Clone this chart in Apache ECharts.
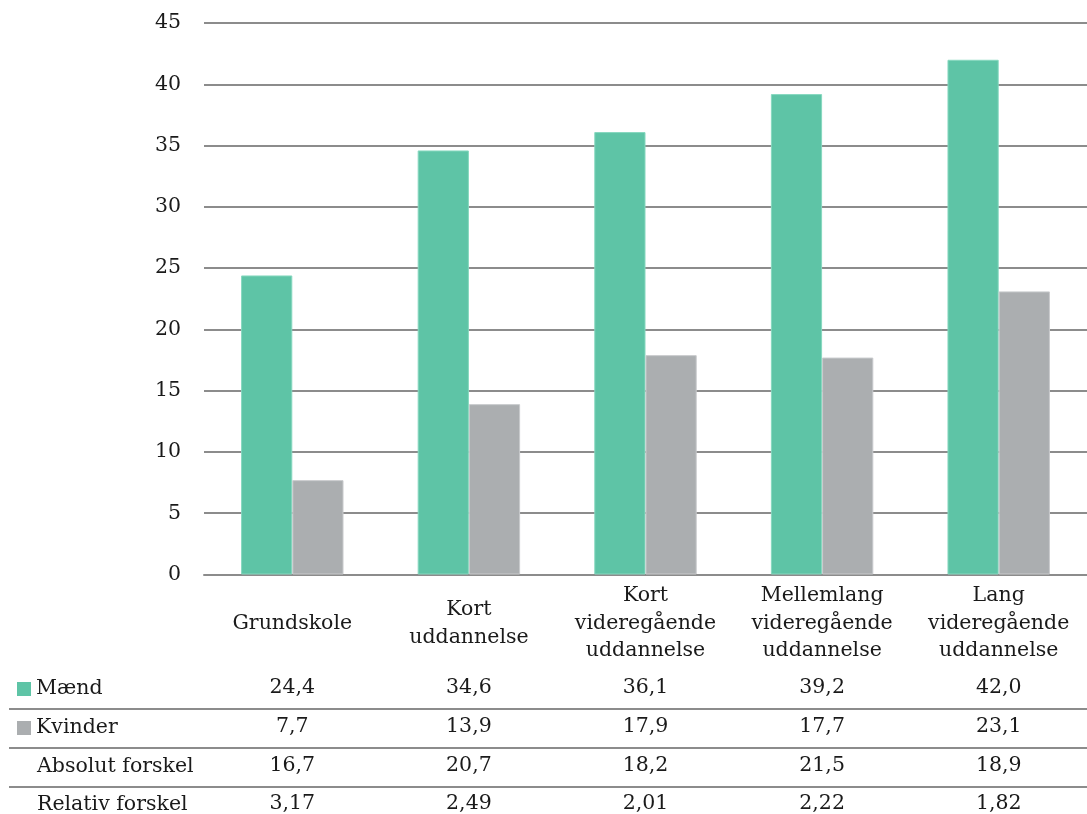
<!DOCTYPE html>
<html>
<head>
<meta charset="utf-8">
<script src="https://cdn.jsdelivr.net/npm/echarts@6/dist/echarts.min.js"></script>
<style>html,body{margin:0;padding:0;background:#fff}#c{width:1087px;height:814px}</style>
</head>
<body>
<div id="c"></div>
<script>
var categories = ['Grundskole', 'Kort\nuddannelse', 'Kort\nvideregående\nuddannelse', 'Mellemlang\nvideregående\nuddannelse', 'Lang\nvideregående\nuddannelse'];
var maend = [24.4, 34.6, 36.1, 39.2, 42.0];
var kvinder = [7.7, 13.9, 17.9, 17.7, 23.1];
var absolutForskel = [16.7, 20.7, 18.2, 21.5, 18.9];
var relativForskel = [3.17, 2.49, 2.01, 2.22, 1.82];
var rowLabels = ['Mænd', 'Kvinder', 'Absolut forskel', 'Relativ forskel'];
var yTicks = [0, 5, 10, 15, 20, 25, 30, 35, 40, 45];

var FONT = 'DejaVu Serif';
var FS = 20.5;
var TXT = '#1a1a1a';
var GREEN = '#5ec4a6';
var GRAY = '#abaeb0';
var LINE = '#8c8c8c';

function fmt(v, d) { return v.toFixed(d).replace('.', ','); }

var rows = [
  maend.map(function (v) { return fmt(v, 1); }),
  kvinder.map(function (v) { return fmt(v, 1); }),
  absolutForskel.map(function (v) { return fmt(v, 1); }),
  relativForskel.map(function (v) { return fmt(v, 2); })
];
var rowCenters = [689, 728, 767, 805];
var gridBottomY = 576;

var xAxes = [{
  type: 'category',
  data: categories,
  gridIndex: 0,
  position: 'bottom',
  axisLine: { lineStyle: { color: LINE, width: 2 } },
  axisTick: { show: false },
  axisLabel: {
    interval: 0,
    fontFamily: FONT, fontSize: FS, color: TXT,
    lineHeight: 27.5, verticalAlign: 'middle', margin: 49
  }
}];
rows.forEach(function (r, i) {
  xAxes.push({
    type: 'category',
    data: r,
    gridIndex: 0,
    position: 'bottom',
    offset: rowCenters[i] - gridBottomY,
    axisLine: { show: false },
    axisTick: { show: false },
    splitLine: { show: false },
    axisLabel: {
      interval: 0,
      fontFamily: FONT, fontSize: FS, color: TXT,
      verticalAlign: 'middle', margin: 0
    }
  });
});

var graphics = [];
[709, 748, 787].forEach(function (y) {
  graphics.push({
    type: 'line', silent: true,
    shape: { x1: 9, y1: y, x2: 1087, y2: y },
    style: { stroke: LINE, lineWidth: 2 }
  });
});
[2, 3].forEach(function (i) {
  graphics.push({
    type: 'text', x: 37, y: rowCenters[i],
    style: { text: rowLabels[i], fontFamily: FONT, fontSize: FS, fill: TXT, verticalAlign: 'middle', align: 'left' }
  });
});

var chart = echarts.init(document.getElementById('c'));
chart.setOption({
  animation: false,
  backgroundColor: '#fff',
  grid: { left: 204, right: 0, top: 23, bottom: 814 - gridBottomY, containLabel: false },
  legend: {
    orient: 'vertical',
    left: 17, top: rowCenters[0] - 12,
    padding: 0,
    itemWidth: 14, itemHeight: 14, itemGap: 15,
    icon: 'rect',
    itemStyle: { borderWidth: 0 },
    textStyle: { fontFamily: FONT, fontSize: FS, color: TXT, lineHeight: 24 },
    data: [rowLabels[0], rowLabels[1]]
  },
  xAxis: xAxes,
  yAxis: {
    type: 'value', min: 0, max: 45, interval: 5,
    axisLine: { show: false }, axisTick: { show: false },
    axisLabel: {
      fontFamily: FONT, fontSize: FS, color: TXT, margin: 23,
      formatter: function (v) { return yTicks.indexOf(v) >= 0 ? String(v) : ''; }
    },
    splitLine: { lineStyle: { color: LINE, width: 2 } }
  },
  series: [
    {
      name: rowLabels[0], type: 'bar', data: maend, xAxisIndex: 0,
      barWidth: '29%', barGap: '0%',
      itemStyle: { color: GREEN, borderColor: '#86d8bf', borderWidth: 1 }
    },
    {
      name: rowLabels[1], type: 'bar', data: kvinder, xAxisIndex: 0,
      barWidth: '29%', barGap: '0%',
      itemStyle: { color: GRAY, borderColor: '#c8cacc', borderWidth: 1 }
    }
  ],
  graphic: graphics
});
</script>
</body>
</html>
